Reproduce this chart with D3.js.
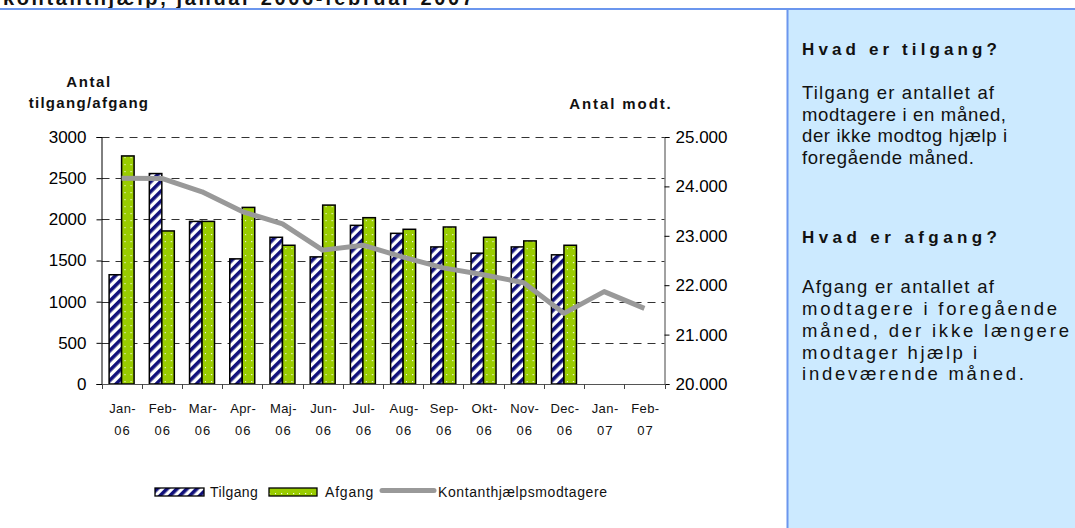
<!DOCTYPE html>
<html>
<head>
<meta charset="utf-8">
<script src="https://cdn.jsdelivr.net/npm/d3@7"></script>
<style>
  body { margin: 0; background: #fff; }
  svg { display: block; font-family: "Liberation Sans", Arial, sans-serif; }
</style>
</head>
<body>
<div id="chartArea"></div>
<script>
// data
const months = ["Jan-06", "Feb-06", "Mar-06", "Apr-06", "Maj-06", "Jun-06", "Jul-06",
                "Aug-06", "Sep-06", "Okt-06", "Nov-06", "Dec-06", "Jan-07", "Feb-07"];
const tilgang = [1327, 2556, 1975, 1520, 1782, 1544, 1927, 1830, 1665, 1589, 1665, 1569];
const afgang = [2770, 1859, 1975, 2145, 1685, 2173, 2020, 1879, 1907, 1782, 1738, 1685];
const modtagere = [24164, 24160, 23890, 23490, 23240, 22710, 22810, 22570,
                   22350, 22210, 22050, 21430, 21870, 21530];
const leftTicks = [0, 500, 1000, 1500, 2000, 2500, 3000];
const rightTicks = [20000, 21000, 22000, 23000, 24000, 25000];
const seriesNames = ["Tilgang", "Afgang", "Kontanthjælpsmodtagere"];

const W = 1075, H = 528;
let svg = d3.select('#chartArea').append('svg')
   .attr('width', W)
   .attr('height', H);

let defs = svg.append('defs');

// hatched pattern for tilgang
let stripes = defs.append('pattern')
   .attr('id', 'stripes')
   .attr('patternUnits', 'userSpaceOnUse')
   .attr('width', 7).attr('height', 7)
   .attr('patternTransform', 'rotate(45)');
stripes.append('rect').attr('width', 7).attr('height', 7).attr('fill', '#fff');
stripes.append('rect').attr('width', 3.6).attr('height', 7).attr('fill', '#10107a');

// dotted green for afgang
let dots = defs.append('pattern')
   .attr('id', 'dots')
   .attr('patternUnits', 'userSpaceOnUse')
   .attr('width', 12).attr('height', 7);
dots.append('rect').attr('width', 12).attr('height', 7).attr('fill', '#99cc00');
dots.append('rect').attr('x', 5).attr('y', 3).attr('width', 1.2).attr('height', 1.2).attr('fill', '#f4fbe0');
dots.append('rect').attr('x', 11).attr('y', 3).attr('width', 1.2).attr('height', 1.2).attr('fill', '#f4fbe0');

// title remnant and top rule
svg.append('text')
   .attr('x', 3).attr('y', 4.5)
   .attr('font-size', 20).attr('font-weight', 'bold')
   .attr('textLength', 470).attr('lengthAdjust', 'spacing')
   .attr('fill', '#111')
   .text('kontanthjælp, januar 2006-februar 2007');

// side panel
svg.append('rect')
   .attr('x', 787).attr('y', 9)
   .attr('width', W - 787).attr('height', H - 9)
   .attr('fill', '#cceaff');
svg.append('line')
   .attr('x1', 787.5).attr('x2', 787.5).attr('y1', 9).attr('y2', H)
   .attr('stroke', '#6b96ee').attr('stroke-width', 2);
svg.append('line')
   .attr('x1', 0).attr('x2', W).attr('y1', 9).attr('y2', 9)
   .attr('stroke', '#6b96ee').attr('stroke-width', 2);

// explanatory text, w = line width in the reference
let panel = svg.append('g').attr('fill', '#111');
let panelLines = [
   { t: 'Hvad er tilgang?', y: 55, w: 195, b: true },
   { t: 'Tilgang er antallet af', y: 99, w: 192 },
   { t: 'modtagere i en måned,', y: 120.5, w: 204 },
   { t: 'der ikke modtog hjælp i', y: 142, w: 205 },
   { t: 'foregående måned.', y: 163.5, w: 172 },
   { t: 'Hvad er afgang?', y: 243, w: 195, b: true },
   { t: 'Afgang er antallet af', y: 293, w: 192 },
   { t: 'modtagere i foregående', y: 315, w: 255 },
   { t: 'måned, der ikke længere', y: 337, w: 267 },
   { t: 'modtager hjælp i', y: 358.5, w: 175 },
   { t: 'indeværende måned.', y: 380, w: 222 }
];
panel.selectAll('text').data(panelLines).enter().append('text')
   .attr('x', 802)
   .attr('y', d => d.y)
   .attr('font-weight', d => d.b ? 'bold' : 'normal')
   .attr('font-size', d => d.b ? 17 : 18.5)
   .attr('textLength', d => d.w)
   .attr('lengthAdjust', 'spacing')
   .text(d => d.t);

// scales
const plotL = 101.5, plotR = 664.5, plotT = 137, plotB = 384;
let x = d3.scaleBand().domain(months).range([plotL, plotR]);
let x1 = d3.scaleBand().domain(seriesNames.slice(0, 2))
   .range([0, x.bandwidth()]).paddingOuter(0.61);
let y = d3.scaleLinear().domain([0, 3000]).range([plotB, plotT]);
let y2 = d3.scaleLinear().domain([20000, 25000]).range([plotB, plotT]);

let dk = d3.formatLocale({ decimal: ',', thousands: '.', grouping: [3], currency: ['', ' kr'] });

// gridlines
svg.append('g').selectAll('line').data(leftTicks.filter(d => d > 0)).enter().append('line')
   .attr('x1', plotL).attr('x2', plotR)
   .attr('y1', d => Math.round(y(d)) + 0.5).attr('y2', d => Math.round(y(d)) + 0.5)
   .attr('stroke', '#333').attr('stroke-width', 1)
   .attr('stroke-dasharray', '8,6');

// bars
let groups = svg.append('g').selectAll('g').data(months.slice(0, 12)).enter().append('g')
   .attr('transform', d => `translate(${x(d)},0)`);
groups.append('rect')
   .attr('x', x1('Tilgang'))
   .attr('y', (d, i) => y(tilgang[i]))
   .attr('width', x1.bandwidth())
   .attr('height', (d, i) => y(0) - y(tilgang[i]))
   .attr('fill', 'url(#stripes)')
   .attr('stroke', '#000').attr('stroke-width', 1.5);
groups.append('rect')
   .attr('x', x1('Afgang'))
   .attr('y', (d, i) => y(afgang[i]))
   .attr('width', x1.bandwidth())
   .attr('height', (d, i) => y(0) - y(afgang[i]))
   .attr('fill', 'url(#dots)')
   .attr('stroke', '#000').attr('stroke-width', 1.5);

// line on the secondary axis
let line = d3.line()
   .x((d, i) => x(months[i]) + x.bandwidth() / 2)
   .y(d => y2(d));
svg.append('path')
   .datum(modtagere)
   .attr('d', line)
   .attr('fill', 'none')
   .attr('stroke', '#999')
   .attr('stroke-width', 5)
   .attr('stroke-linejoin', 'round');

// axes
let axisL = svg.append('g')
   .attr('transform', `translate(${plotL},0)`)
   .call(d3.axisLeft(y).tickValues(leftTicks).tickSize(5).tickPadding(10).tickFormat(d3.format('d')));
let axisR = svg.append('g')
   .attr('transform', `translate(${plotR},0)`)
   .call(d3.axisRight(y2).tickValues(rightTicks).tickSize(5).tickPadding(6).tickFormat(dk.format(',')));
let axisB = svg.append('g')
   .attr('transform', `translate(0,${plotB})`)
   .call(d3.axisBottom(x).tickSize(0).tickFormat(''));

[axisL, axisR, axisB].forEach(a => {
   a.select('.domain').attr('stroke', '#000');
   a.selectAll('.tick line').attr('stroke', '#000');
   a.selectAll('text').attr('font-size', 17).attr('fill', '#000')
      .attr('font-family', '"Liberation Sans", Arial, sans-serif');
});
axisB.select('.domain').attr('stroke', '#555');
axisR.select('.domain').attr('stroke', '#444');

// tick marks between categories
svg.append('g').selectAll('line').data(months.concat(['end'])).enter().append('line')
   .attr('x1', (d, i) => Math.round(plotL + i * x.bandwidth()) + 0.5)
   .attr('x2', (d, i) => Math.round(plotL + i * x.bandwidth()) + 0.5)
   .attr('y1', plotB).attr('y2', plotB + 5)
   .attr('stroke', '#444');

// category labels in two rows
let xl = svg.append('g').attr('font-size', 13).attr('fill', '#111').attr('text-anchor', 'middle');
xl.selectAll('text.m').data(months).enter().append('text')
   .attr('class', 'm')
   .attr('x', d => x(d) + x.bandwidth() / 2 + 1)
   .attr('y', 413)
   .attr('letter-spacing', 0.4)
   .text(d => d.split('-')[0] + '-');
xl.selectAll('text.yr').data(months).enter().append('text')
   .attr('class', 'yr')
   .attr('x', d => x(d) + x.bandwidth() / 2 + 1)
   .attr('y', 435)
   .attr('letter-spacing', 1)
   .text(d => d.split('-')[1]);

// axis titles
let at = svg.append('g').attr('font-size', 15).attr('font-weight', 'bold').attr('fill', '#111')
   .attr('text-anchor', 'middle');
at.append('text').attr('x', 89).attr('y', 87)
   .attr('letter-spacing', 1.6).text('Antal');
at.append('text').attr('x', 89).attr('y', 108)
   .attr('letter-spacing', 1.3).text('tilgang/afgang');
at.append('text').attr('x', 621).attr('y', 109)
   .attr('letter-spacing', 1.9).text('Antal modt.');

// legend
let lg = svg.append('g').attr('font-size', 14).attr('fill', '#111');
lg.append('rect').attr('x', 155).attr('y', 488).attr('width', 49).attr('height', 8)
   .attr('fill', 'url(#stripes)').attr('stroke', '#000').attr('stroke-width', 1.3);
lg.append('text').attr('x', 210).attr('y', 497).attr('letter-spacing', 0.4).text(seriesNames[0]);
lg.append('rect').attr('x', 269).attr('y', 488).attr('width', 48).attr('height', 8)
   .attr('fill', 'url(#dots)').attr('stroke', '#000').attr('stroke-width', 1.3);
lg.append('text').attr('x', 325).attr('y', 497).attr('letter-spacing', 0.8).text(seriesNames[1]);
lg.append('line').attr('x1', 382).attr('x2', 434).attr('y1', 490.5).attr('y2', 490.5)
   .attr('stroke', '#999').attr('stroke-width', 5).attr('stroke-linecap', 'round');
lg.append('text').attr('x', 438).attr('y', 497).attr('letter-spacing', 0.6).text(seriesNames[2]);
</script>
</body>
</html>
